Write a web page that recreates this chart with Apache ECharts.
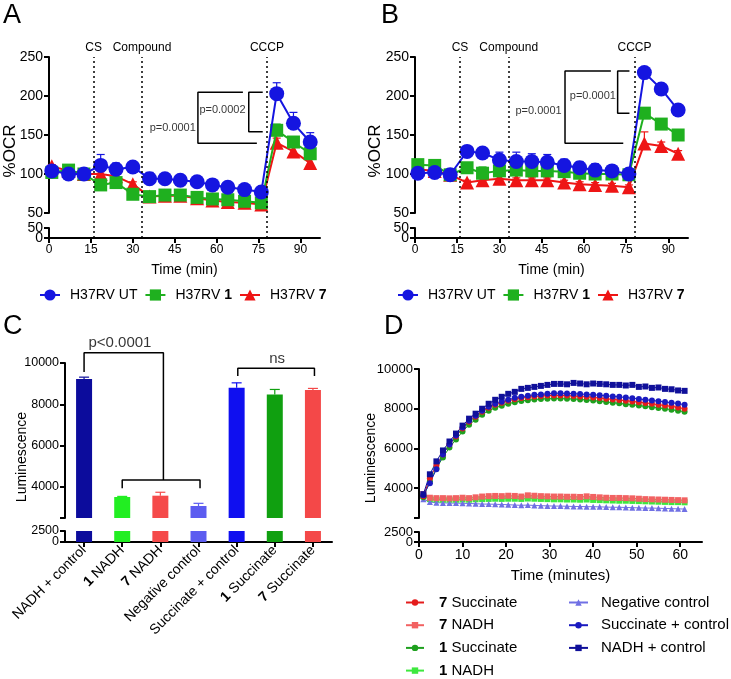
<!DOCTYPE html>
<html>
<head>
<meta charset="utf-8">
<script src="https://cdn.jsdelivr.net/npm/echarts@6/dist/echarts.min.js"></script>
<style>
  html, body { margin: 0; padding: 0; background: #fff; }
  #chart { width: 731px; height: 679px; }
</style>
</head>
<body>
<div id="chart"></div>
<script>
const FONT = '"Liberation Sans", Arial, sans-serif';

// ---- panels A / B : %OCR vs time ----
const timeOCR = [1, 7, 12.5, 18.5, 24, 30, 36, 41.5, 47, 53, 58.5, 64, 70, 76, 81.5, 87.5, 93.5];
const ocrTicks = [0, 15, 30, 45, 60, 75, 90];
const ocrNames = ['H37RV UT', 'H37RV 1', 'H37RV 7'];
const guideTimes = [16, 33.3, 78];
const guideNames = ['CS', 'Compound', 'CCCP'];

const aUT = [104, 100, 100, 111, 106, 109, 94, 94, 92, 90, 86, 83, 80, 77, 203, 165, 141];
const aC1 = [102, 105, 100, 86, 89, 74, 71, 73, 73, 70, 68, 67, 65, 63, 156, 141, 126];
const aC7 = [110, 104, 100, 100, 97, 87, 71, 72, 72, 69, 66, 64, 63, 61, 140, 129, 114];
const aErrUT = [3, 2, 2, 14, 8, 4, 8, 6, 3, 2, 2, 2, 3, 2, 14, 14, 12];
const aErrC1 = [2, 2, 2, 3, 3, 2, 3, 3, 2, 2, 2, 2, 2, 2, 8, 6, 5];
const aErrC7 = [2, 2, 2, 3, 3, 3, 2, 2, 2, 2, 2, 2, 2, 2, 6, 7, 6];

const bUT = [101, 102, 99, 129, 127, 118, 116, 116, 115, 111, 108, 105, 104, 100, 230, 209, 182];
const bC1 = [112, 111, 99, 108, 101, 104, 105, 104, 104, 103, 101, 100, 100, 99, 178, 164, 150];
const bC7 = [106, 104, 99, 89, 92, 94, 92, 92, 92, 89, 87, 86, 85, 83, 139, 136, 126];
const bErrUT = [2, 2, 2, 3, 3, 10, 12, 10, 10, 8, 8, 8, 6, 4, 4, 4, 4];
const bErrC1 = [3, 3, 2, 4, 8, 6, 6, 6, 6, 5, 5, 4, 4, 3, 4, 4, 4];
const bErrC7 = [2, 2, 2, 3, 3, 3, 3, 3, 3, 3, 3, 3, 3, 3, 15, 5, 4];

// brackets (time, %OCR) and p-value notes
const aBracketBig = [[69.4, 204.7], [53.3, 204.7], [53.3, 139.3], [74.4, 139.3]];
const aBracketSmall = [[76.5, 204.7], [71.5, 204.7], [71.5, 154.2], [76.5, 154.2]];
const aNotes = [[62.1, 182, 'p=0.0002'], [44.3, 159, 'p=0.0001']];
const bBracketBig = [[69.6, 232], [53.3, 232], [53.3, 139.3], [74, 139.3]];
const bBracketSmall = [[76.2, 232], [72, 232], [72, 177.8], [76.2, 177.8]];
const bNotes = [[63.2, 200, 'p=0.0001'], [43.9, 181, 'p=0.0001']];

// ---- panel C : endpoint luminescence ----
const cCategories = ['NADH + control', '1 NADH', '7 NADH', 'Negative control',
                     'Succinate + control', '1 Succinate', '7 Succinate'];
const cValues = [9225, 3515, 3580, 3080, 8800, 8480, 8690];
const cErr = [90, 30, 165, 130, 240, 240, 80];
const cBarColors = ['#0c0c9c', '#22ee22', '#f54a4a', '#5c5cf0', '#0f0ff0', '#10a010', '#f44848'];
const cBracketP = [[0, 9560], [0, 10500], [2.08, 10500], [2.08, 4340]];
const cBracketPSub = [[1, 3940], [1, 4340], [3.04, 4340], [3.04, 3940]];
const cBracketNs = [[4.03, 9370], [4.03, 9740], [6.04, 9740], [6.04, 9370]];
const cNotes = [[0.94, 10970, 'p<0.0001'], [5.06, 10190, 'ns']];

// ---- panel D : luminescence kinetics ----
const dTime = [1, 2.5, 4, 5.5, 7, 8.5, 10, 11.5, 13, 14.5, 16, 17.5, 19, 20.5, 22, 23.5, 25, 26.5, 28, 29.5,
               31, 32.5, 34, 35.5, 37, 38.5, 40, 41.5, 43, 44.5, 46, 47.5, 49, 50.5, 52, 53.5, 55, 56.5, 58, 59.5, 61];
const dTicks = [0, 10, 20, 30, 40, 50, 60];
const dNadhCtrl = [3700, 4700, 5350, 5900, 6350, 6750, 7150, 7500, 7750, 8000, 8250, 8450, 8600, 8750, 8850,
                   9000, 9050, 9100, 9150, 9200, 9250, 9250, 9230, 9300, 9270, 9230, 9270, 9250, 9230, 9200,
                   9200, 9170, 9200, 9100, 9120, 9050, 9070, 9000, 8980, 8920, 8900];
const dSuccCtrl = [3650, 4250, 4950, 5700, 6200, 6650, 7050, 7400, 7650, 7900, 8100, 8250, 8350, 8450, 8550,
                   8600, 8650, 8700, 8720, 8750, 8780, 8780, 8770, 8760, 8740, 8720, 8700, 8680, 8650, 8620,
                   8600, 8560, 8530, 8490, 8450, 8420, 8380, 8340, 8300, 8260, 8200];
const dSucc7 = [3600, 4500, 5150, 5700, 6200, 6600, 7000, 7350, 7600, 7850, 8050, 8200, 8300, 8400, 8480,
                8540, 8580, 8620, 8640, 8660, 8670, 8670, 8660, 8640, 8620, 8600, 8570, 8540, 8500, 8470,
                8440, 8400, 8370, 8330, 8290, 8250, 8200, 8160, 8120, 8060, 8000];
const dSucc1 = [3550, 4350, 5000, 5550, 6050, 6450, 6850, 7200, 7450, 7700, 7900, 8050, 8150, 8250, 8330,
                8390, 8430, 8460, 8490, 8500, 8510, 8510, 8500, 8490, 8470, 8440, 8410, 8380, 8340, 8300,
                8270, 8230, 8200, 8160, 8120, 8080, 8040, 8000, 7950, 7900, 7850];
const dNadh7 = [3700, 3520, 3500, 3500, 3490, 3500, 3520, 3500, 3540, 3580, 3600, 3610, 3600, 3620, 3610,
                3580, 3640, 3620, 3600, 3590, 3580, 3580, 3570, 3570, 3560, 3590, 3560, 3540, 3520, 3510,
                3510, 3500, 3490, 3470, 3450, 3440, 3430, 3420, 3410, 3400, 3390];
const dNadh1 = [3600, 3450, 3430, 3420, 3420, 3420, 3430, 3420, 3440, 3450, 3460, 3470, 3460, 3470, 3470,
                3460, 3480, 3470, 3460, 3450, 3440, 3440, 3430, 3430, 3420, 3430, 3410, 3400, 3390, 3380,
                3370, 3370, 3360, 3350, 3340, 3330, 3320, 3310, 3300, 3300, 3290];
const dNeg = [3450, 3300, 3270, 3260, 3250, 3250, 3240, 3230, 3220, 3200, 3200, 3190, 3180, 3170, 3150,
              3140, 3150, 3130, 3120, 3110, 3100, 3100, 3090, 3080, 3080, 3070, 3070, 3060, 3050, 3040,
              3040, 3030, 3020, 3010, 3000, 3000, 2990, 2980, 2970, 2960, 2950];

const zip = (xs, ys) => ys.map((y, i) => [xs[i], y]);
const boldNum = s => s.replace(/^(\d) /, '{b|$1} ').replace(/ (\d)$/, ' {b|$1}');

const BLUE = '#1515e0', GREEN = '#1fb01f', RED = '#ee1515';

function grid(left, top, width, height) {
  return { left, top, width, height, outerBoundsMode: 'none', containLabel: false };
}

function axisStyle(fontSize) {
  return {
    axisLine: { show: true, onZero: false, lineStyle: { color: '#000', width: 2 } },
    axisTick: { show: true, length: 5, lineStyle: { color: '#000', width: 2 } },
    axisLabel: {
      color: '#000', fontSize, fontFamily: FONT, margin: 6,
      showMinLabel: true, showMaxLabel: true, hideOverlap: false,
      formatter: v => String(v)
    },
    splitLine: { show: false }
  };
}

function hiddenValueAxis(gridIndex, min, max) {
  return { type: 'value', gridIndex, min, max, show: false, splitLine: { show: false } };
}

function timeAxis(gridIndex, max, ticks, name, fontSize, nameSize, nameGap) {
  const s = axisStyle(fontSize);
  s.axisTick.customValues = ticks;
  s.axisLabel.customValues = ticks;
  return Object.assign({
    type: 'value', gridIndex, min: 0, max,
    name, nameLocation: 'middle', nameGap,
    nameTextStyle: { color: '#000', fontSize: nameSize, fontFamily: FONT }
  }, s);
}

function ocrYAxis(gridIndex) {
  return Object.assign({ type: 'value', gridIndex, min: 50, max: 250, interval: 50 }, axisStyle(14));
}
// lower stub of a broken axis: line, ticks at 0 and max, label at 0
function lowYAxis(gridIndex, max, fontSize) {
  const s = axisStyle(fontSize);
  s.axisTick.customValues = [0, max];
  s.axisLabel.customValues = [0];
  return Object.assign({ type: 'value', gridIndex, min: 0, max, interval: max }, s);
}
// companion axis carrying only the top label of the stub
function lowYAxisTop(gridIndex, max, fontSize) {
  const s = axisStyle(fontSize);
  s.axisLine.show = false;
  s.axisTick.show = false;
  s.axisLabel.customValues = [max];
  return Object.assign({ type: 'value', gridIndex, min: 0, max, interval: max, position: 'left', offset: 0 }, s);
}
function lumYAxis(gridIndex, fontSize) {
  const s = axisStyle(fontSize);
  s.axisTick.customValues = [2500, 4000, 6000, 8000, 10000];
  s.axisLabel.customValues = [4000, 6000, 8000, 10000];
  return Object.assign({ type: 'value', gridIndex, min: 2500, max: 10000 }, s);
}

function guideSeries(xi, yi, withLabel) {
  return {
    type: 'line', xAxisIndex: xi, yAxisIndex: yi, data: [], silent: true,
    markLine: {
      symbol: 'none', silent: true, animation: false,
      lineStyle: { type: [2, 3], color: '#000', width: 1.5 },
      label: withLabel
        ? { show: true, position: 'end', formatter: '{b}', color: '#000', fontSize: 12, fontFamily: FONT, distance: 3 }
        : { show: false },
      emphasis: { disabled: true },
      data: guideTimes.map((t, i) => ({ xAxis: t, name: guideNames[i] }))
    }
  };
}

function ocrSeries(xi, yi, name, values, color, symbol, size, z) {
  return {
    type: 'line', name, xAxisIndex: xi, yAxisIndex: yi, z,
    data: zip(timeOCR, values), symbol, symbolSize: size, showAllSymbol: true,
    itemStyle: { color }, lineStyle: { color, width: 2 }
  };
}

function errSeries(xi, yi, xs, ys, errs, colors, capHalf, z) {
  return {
    type: 'custom', xAxisIndex: xi, yAxisIndex: yi, silent: true, z, clip: false,
    data: ys.map((y, i) => [xs[i], y, errs[i]]),
    renderItem: (params, api) => {
      const color = Array.isArray(colors) ? colors[params.dataIndex] : colors;
      const base = api.coord([api.value(0), api.value(1)]);
      const top = api.coord([api.value(0), api.value(1) + api.value(2)]);
      return {
        type: 'group', children: [
          { type: 'line', shape: { x1: base[0], y1: base[1], x2: top[0], y2: top[1] }, style: { stroke: color, lineWidth: 1.2 } },
          { type: 'line', shape: { x1: top[0] - capHalf, y1: top[1], x2: top[0] + capHalf, y2: top[1] }, style: { stroke: color, lineWidth: 1.2 } }
        ]
      };
    }
  };
}

function bracketSeries(xi, yi, pts) {
  return {
    type: 'line', xAxisIndex: xi, yAxisIndex: yi, data: pts, symbol: 'none', clip: false,
    silent: true, z: 1, lineStyle: { color: '#000', width: 1.5 }
  };
}

function noteSeries(xi, yi, notes, fontSize) {
  return {
    type: 'scatter', xAxisIndex: xi, yAxisIndex: yi, clip: false, silent: true,
    symbolSize: 1, itemStyle: { color: 'transparent' },
    data: notes.map(n => ({ value: [n[0], n[1]], name: n[2] })),
    label: { show: true, position: 'inside', formatter: '{b}', color: '#000', fontSize, fontFamily: FONT }
  };
}

function dSeries(name, values, color, symbol, size) {
  return {
    type: 'line', name, xAxisIndex: 8, yAxisIndex: 8, data: zip(dTime, values),
    symbol, symbolSize: size, showAllSymbol: true,
    itemStyle: { color }, lineStyle: { color, width: 1 }
  };
}

function cBars(xi, yi) {
  return {
    type: 'bar', xAxisIndex: xi, yAxisIndex: yi, data: cValues, barWidth: 16, silent: true,
    itemStyle: { color: p => cBarColors[p.dataIndex] }
  };
}

const legendText = (size, pad) => ({
  color: '#000', fontSize: size, fontFamily: FONT, padding: [0, 0, 0, pad], lineHeight: size,
  rich: { b: { fontWeight: 'bold', fontSize: size, fontFamily: FONT, color: '#000', lineHeight: size } }
});

const chart = echarts.init(document.getElementById('chart'), null, { renderer: 'canvas' });

const cLabelStyle = axisStyle(14);
cLabelStyle.axisTick.alignWithLabel = true;
cLabelStyle.axisTick.interval = 0;
cLabelStyle.axisLabel.rotate = 45;
cLabelStyle.axisLabel.interval = 0;
cLabelStyle.axisLabel.formatter = boldNum;
cLabelStyle.axisLabel.rich = { b: { fontWeight: 'bold', fontSize: 14, fontFamily: FONT, color: '#000' } };

const option = {
  animation: false,
  backgroundColor: '#fff',
  textStyle: { fontFamily: FONT },
  grid: [
    grid(49, 57, 271, 156), grid(49, 213, 271, 15), grid(49, 228, 271, 10),      // A
    grid(415, 57, 273, 156), grid(415, 213, 273, 15), grid(415, 228, 273, 10),   // B
    grid(65, 363, 267, 155), grid(65, 531, 267, 11),                             // C
    grid(419, 369, 283, 149), grid(419, 532, 283, 10)                            // D
  ],
  xAxis: [
    hiddenValueAxis(0, 0, 97), hiddenValueAxis(1, 0, 97),
    timeAxis(2, 97, ocrTicks, 'Time (min)', 12, 14, 25),
    hiddenValueAxis(3, 0, 97), hiddenValueAxis(4, 0, 97),
    timeAxis(5, 97, ocrTicks, 'Time (min)', 12, 14, 25),
    { type: 'category', gridIndex: 6, data: cCategories, show: false },
    Object.assign({ type: 'category', gridIndex: 7, data: cCategories }, cLabelStyle),
    hiddenValueAxis(8, 0, 65),
    timeAxis(9, 65, dTicks, 'Time (minutes)', 14, 15, 26),
    hiddenValueAxis(6, -0.5, 6.5)
  ],
  yAxis: [
    ocrYAxis(0), hiddenValueAxis(1, 0, 1), lowYAxis(2, 50, 14),
    ocrYAxis(3), hiddenValueAxis(4, 0, 1), lowYAxis(5, 50, 14),
    lumYAxis(6, 12.5), lowYAxis(7, 2500, 12.5),
    lumYAxis(8, 13), lowYAxis(9, 2500, 13),
    lowYAxisTop(2, 50, 14), lowYAxisTop(5, 50, 14),
    lowYAxisTop(7, 2500, 12.5), lowYAxisTop(9, 2500, 13)
  ],
  legend: [
    {
      data: ocrNames, left: 39, top: 288, padding: 0, itemWidth: 20, itemHeight: 14, itemGap: 7,
      textStyle: legendText(14, 5), formatter: boldNum, selectedMode: false
    },
    {
      data: ocrNames, left: 397, top: 288, padding: 0, itemWidth: 20, itemHeight: 14, itemGap: 7,
      textStyle: legendText(14, 5), formatter: boldNum, selectedMode: false
    },
    {
      data: ['7 Succinate', '7 NADH', '1 Succinate', '1 NADH'], orient: 'vertical',
      left: 405, top: 595, padding: 0, itemWidth: 18, itemHeight: 8, itemGap: 7.7,
      textStyle: legendText(15, 10), formatter: boldNum, selectedMode: false
    },
    {
      data: ['Negative control', 'Succinate + control', 'NADH + control'], orient: 'vertical',
      left: 568, top: 595, padding: 0, itemWidth: 19, itemHeight: 8, itemGap: 7.7,
      textStyle: legendText(15, 8), formatter: boldNum, selectedMode: false
    }
  ],
  graphic: [
    { type: 'text', left: 3, top: 2, style: { text: 'A', fontSize: 27, fontFamily: FONT, fill: '#000' } },
    { type: 'text', left: 381, top: 2, style: { text: 'B', fontSize: 27, fontFamily: FONT, fill: '#000' } },
    { type: 'text', left: 3, top: 313, style: { text: 'C', fontSize: 27, fontFamily: FONT, fill: '#000' } },
    { type: 'text', left: 384, top: 313, style: { text: 'D', fontSize: 27, fontFamily: FONT, fill: '#000' } },
    { type: 'text', x: 10, y: 151, rotation: Math.PI / 2,
      style: { text: '%OCR', fontSize: 17, fontFamily: FONT, fill: '#000', align: 'center', verticalAlign: 'middle' } },
    { type: 'text', x: 375, y: 151, rotation: Math.PI / 2,
      style: { text: '%OCR', fontSize: 17, fontFamily: FONT, fill: '#000', align: 'center', verticalAlign: 'middle' } },
    { type: 'text', x: 22, y: 457, rotation: Math.PI / 2,
      style: { text: 'Luminescence', fontSize: 14, fontFamily: FONT, fill: '#000', align: 'center', verticalAlign: 'middle' } },
    { type: 'text', x: 371, y: 458, rotation: Math.PI / 2,
      style: { text: 'Luminescence', fontSize: 14, fontFamily: FONT, fill: '#000', align: 'center', verticalAlign: 'middle' } }
  ],
  series: [
    // A
    guideSeries(0, 0, true), guideSeries(1, 1, false), guideSeries(2, 2, false),
    errSeries(0, 0, timeOCR, aC7, aErrC7, RED, 4, 1),
    errSeries(0, 0, timeOCR, aC1, aErrC1, GREEN, 4, 1),
    errSeries(0, 0, timeOCR, aUT, aErrUT, BLUE, 4, 1),
    ocrSeries(0, 0, 'H37RV 7', aC7, RED, 'triangle', 14, 2),
    ocrSeries(0, 0, 'H37RV 1', aC1, GREEN, 'rect', 13, 3),
    ocrSeries(0, 0, 'H37RV UT', aUT, BLUE, 'circle', 15, 4),
    bracketSeries(0, 0, aBracketBig), bracketSeries(0, 0, aBracketSmall),
    noteSeries(0, 0, aNotes, 11),
    // B
    guideSeries(3, 3, true), guideSeries(4, 4, false), guideSeries(5, 5, false),
    errSeries(3, 3, timeOCR, bC7, bErrC7, RED, 4, 1),
    errSeries(3, 3, timeOCR, bC1, bErrC1, GREEN, 4, 1),
    errSeries(3, 3, timeOCR, bUT, bErrUT, BLUE, 4, 1),
    ocrSeries(3, 3, 'H37RV 7', bC7, RED, 'triangle', 14, 2),
    ocrSeries(3, 3, 'H37RV 1', bC1, GREEN, 'rect', 13, 3),
    ocrSeries(3, 3, 'H37RV UT', bUT, BLUE, 'circle', 15, 4),
    bracketSeries(3, 3, bBracketBig), bracketSeries(3, 3, bBracketSmall),
    noteSeries(3, 3, bNotes, 11),
    // C
    cBars(6, 6), cBars(7, 7),
    errSeries(6, 6, cCategories, cValues, cErr, cBarColors, 5, 1),
    bracketSeries(10, 6, cBracketP), bracketSeries(10, 6, cBracketPSub), bracketSeries(10, 6, cBracketNs),
    noteSeries(10, 6, cNotes, 15),
    // D
    dSeries('1 NADH', dNadh1, '#3ee83e', 'rect', 6),
    dSeries('Negative control', dNeg, '#7070e4', 'triangle', 6),
    dSeries('7 NADH', dNadh7, '#f26262', 'rect', 6),
    dSeries('1 Succinate', dSucc1, '#1ea01e', 'circle', 6),
    dSeries('7 Succinate', dSucc7, '#e41c1c', 'circle', 6),
    dSeries('Succinate + control', dSuccCtrl, '#1a1ac0', 'circle', 6),
    dSeries('NADH + control', dNadhCtrl, '#10109a', 'rect', 6)
  ]
};

chart.setOption(option);
</script>
</body>
</html>
